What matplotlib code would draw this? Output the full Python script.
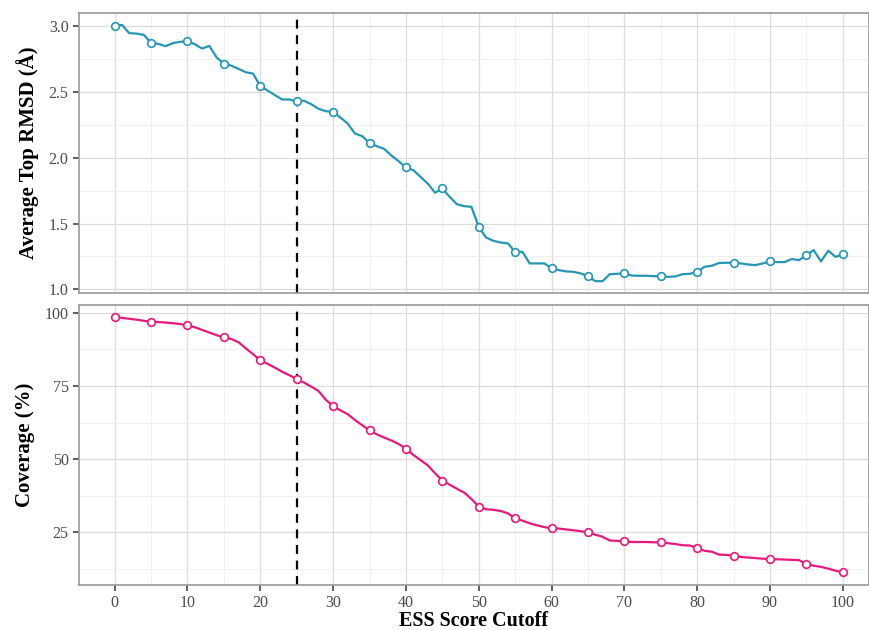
import numpy as np
import matplotlib
matplotlib.use("Agg")
import matplotlib.pyplot as plt
from matplotlib.ticker import MultipleLocator

# ESS score cutoffs 0..100
cutoff = list(range(0, 101))

# average top RMSD (Angstrom) per cutoff
rmsd = [3.00, 3.01, 2.947, 2.944, 2.934, 2.873, 2.866, 2.848, 2.871, 2.881,
        2.886, 2.863, 2.83, 2.85, 2.762, 2.716, 2.70, 2.676, 2.65, 2.64,
        2.544, 2.511, 2.476, 2.443, 2.443, 2.428, 2.433, 2.407, 2.372, 2.354,
        2.347, 2.306, 2.26, 2.184, 2.164, 2.113, 2.088, 2.068, 2.017, 1.974,
        1.926, 1.906, 1.855, 1.804, 1.734, 1.767, 1.703, 1.647, 1.632, 1.627,
        1.475, 1.394, 1.369, 1.356, 1.349, 1.283, 1.285, 1.197, 1.197, 1.197,
        1.161, 1.146, 1.136, 1.133, 1.121, 1.10, 1.062, 1.062, 1.115, 1.118,
        1.121, 1.105, 1.103, 1.103, 1.10, 1.10, 1.095, 1.098, 1.115, 1.118,
        1.133, 1.171, 1.179, 1.20, 1.202, 1.202, 1.197, 1.189, 1.184, 1.197,
        1.212, 1.207, 1.207, 1.23, 1.222, 1.26, 1.298, 1.212, 1.293, 1.247,
        1.265]

# coverage (%) per cutoff
coverage = [98.6, 98.3, 98.0, 97.7, 97.3, 97.0, 96.9, 96.7, 96.5, 96.2,
            95.8, 95.1, 94.2, 93.3, 92.4, 91.6, 91.1, 90.0, 87.9, 85.9,
            83.8, 82.6, 81.3, 79.9, 78.7, 77.4, 76.2, 74.8, 73.3, 70.3,
            68.1, 66.7, 65.4, 63.4, 61.6, 59.9, 58.5, 57.4, 56.4, 55.2,
            53.6, 51.5, 49.7, 47.9, 45.2, 42.7, 41.3, 39.9, 38.6, 36.4,
            33.8, 32.9, 32.7, 32.3, 31.5, 29.8, 29.0, 28.1, 27.4, 26.8,
            26.4, 26.3, 26.0, 25.7, 25.4, 25.0, 24.2, 23.5, 22.2, 22.1,
            21.9, 21.7, 21.7, 21.7, 21.6, 21.6, 21.3, 21.0, 20.6, 20.5,
            19.7, 18.7, 18.4, 17.4, 17.3, 17.0, 16.6, 16.4, 16.2, 16.0,
            15.8, 15.8, 15.7, 15.6, 15.5, 14.1, 13.6, 13.2, 12.6, 11.9,
            11.3]

cutoff_sel = 25
teal = "#2596b4"
pink = "#e8187c"

plt.rcParams['font.family'] = ['Liberation Serif', 'DejaVu Serif']

x = np.array(cutoff)
mk = x % 5 == 0

fig = plt.figure(figsize=(8.69, 6.3), dpi=100)
ax1 = fig.add_axes([0.0909, 0.5349, 0.9091, 0.4440])
ax2 = fig.add_axes([0.0909, 0.0714, 0.9091, 0.4449])


def style(ax):
    ax.set_xlim(-4.9, 103.6)
    ax.xaxis.set_major_locator(MultipleLocator(10))
    ax.xaxis.set_minor_locator(MultipleLocator(5))
    ax.grid(True, which='major', color='#dcdcdc', linewidth=0.9)
    ax.grid(True, which='minor', color='#eeeeee', linewidth=0.6)
    ax.set_axisbelow(True)
    for s in ax.spines.values():
        s.set_color('#9a9a9a')
        s.set_linewidth(1.2)
    ax.tick_params(which='minor', length=0)
    ax.tick_params(which='major', length=4, width=1.1, color='#333333',
                   labelsize=11.5, labelcolor='#4a4a4a')
    ax.axvline(cutoff_sel, color='black', linestyle=(0, (4, 3)), linewidth=1.6, zorder=1.5)


# top panel: RMSD
style(ax1)
ax1.plot(x, rmsd, color=teal, linewidth=1.6, zorder=2)
ax1.plot(x[mk], np.array(rmsd)[mk], linestyle='none', marker='o', markersize=5.5,
         markerfacecolor='white', markeredgecolor=teal, markeredgewidth=1.2, zorder=3)
ax1.set_ylim(0.972, 3.098)
ax1.yaxis.set_major_locator(MultipleLocator(0.5))
ax1.yaxis.set_minor_locator(MultipleLocator(0.25))
ax1.yaxis.set_major_formatter(matplotlib.ticker.FormatStrFormatter('%.1f'))
ax1.tick_params(axis='x', which='both', length=0, labelbottom=False)
ax1.set_ylabel('Average Top RMSD (Å)', fontsize=15, fontweight='bold', labelpad=7)

# bottom panel: coverage
style(ax2)
ax2.plot(x, coverage, color=pink, linewidth=1.6, zorder=2)
ax2.plot(x[mk], np.array(coverage)[mk], linestyle='none', marker='o', markersize=5.5,
         markerfacecolor='white', markeredgecolor=pink, markeredgewidth=1.2, zorder=3)
ax2.set_ylim(7.0, 102.8)
ax2.yaxis.set_major_locator(MultipleLocator(25))
ax2.yaxis.set_minor_locator(MultipleLocator(12.5))
ax2.set_xticks(range(0, 101, 10))
ax2.set_ylabel('Coverage (%)', fontsize=15, fontweight='bold', labelpad=7)
ax2.set_xlabel('ESS Score Cutoff', fontsize=14.5, fontweight='bold', labelpad=0)

fig.align_ylabels([ax1, ax2])
fig.savefig('out.png', dpi=100)
